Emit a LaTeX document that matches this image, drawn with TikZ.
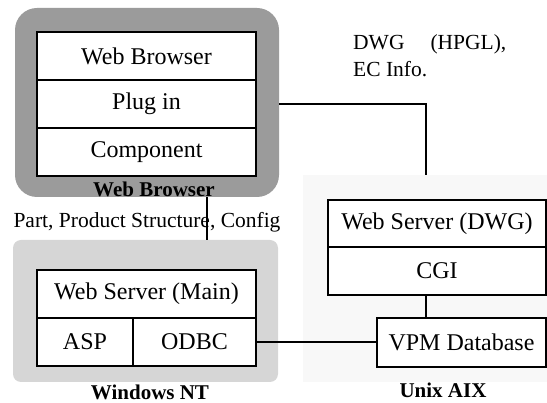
\documentclass[tikz,border=0pt]{standalone}
\usepackage{fontspec}
\setmainfont{Liberation Serif}
\usepackage{tikz}
\usepackage{xcolor}
\usetikzlibrary{positioning,calc}
\definecolor{regiondark}{RGB}{155,155,155}
\definecolor{regionmid}{RGB}{214,214,214}
\definecolor{regionlight}{RGB}{248,248,248}

\tikzset{
  cell/.style={draw,line width=1.6pt,fill=white,inner sep=0pt,
    minimum height=48pt,font=\fontsize{24}{28}\selectfont},
  region/.style={inner sep=0pt},
  tag/.style={font=\fontsize{21}{25}\selectfont\bfseries},
  link/.style={line width=1.6pt}
}

\begin{document}
\begin{tikzpicture}[x=1pt,y=-1pt]
\useasboundingbox (0,0) rectangle (547,403);
% group regions
\node[region,fill=regiondark,rounded corners=22pt,minimum width=264pt,minimum height=189pt] (brwreg) at (147,102.5) {};
\node[region,fill=regionmid,rounded corners=8pt,minimum width=265pt,minimum height=142pt] (ntreg) at (145.5,311) {};
\node[region,fill=regionlight,minimum width=244pt,minimum height=207pt] (aixreg) at (425,278.5) {};

% browser stack
\node[cell,minimum width=219pt] (brw) at (146.5,56) {Web Browser};
\node[cell,minimum width=219pt] (plug) at (146.5,104) {Plug in};
\node[cell,minimum width=219pt] (comp) at (146.5,152) {Component};
\node[tag] (brwlbl) at (154,189) {Web Browser};

% main server
\node[cell,minimum width=219pt] (wsmain) at (146.5,294) {Web Server (Main)};
\node[cell,minimum width=96pt] (asp) at (85,342) {ASP};
\node[cell,minimum width=123pt] (odbc) at (194.5,342) {ODBC};
\node[tag] (ntlbl) at (150,392) {Windows NT};

% drawing server
\node[cell,minimum width=218pt,minimum height=47pt] (wsdwg) at (437,223.5) {Web Server (DWG)};
\node[cell,minimum width=218pt] (cgi) at (437,271) {CGI};
\node[cell,minimum width=169pt,minimum height=49pt] (vpm) at (461.5,342.5) {VPM Database};
\node[tag] (aixlbl) at (443,390) {Unix AIX};

% data labels
\node[font=\fontsize{21.5}{26}\selectfont] (partlbl) at (147,222) {Part, Product Structure, Config};
\node[anchor=west,align=left,inner sep=0pt,font=\fontsize{21.5}{27}\selectfont] (dwglbl) at (353,56) {DWG\hspace{26pt}(HPGL),\\EC Info.};

% connectors
\coordinate (xa) at (207,0);
\coordinate (xb) at (426,0);
\draw[link] (brwreg.south -| xa) -- (ntreg.north -| xa);
\draw[link] (plug.east -| brwreg.east) -| (aixreg.north -| xb);
\draw[link] (cgi.south -| xb) -- (vpm.north -| xb);
\draw[link] (odbc.east) -- (vpm.west |- odbc.east);
\end{tikzpicture}
\end{document}
